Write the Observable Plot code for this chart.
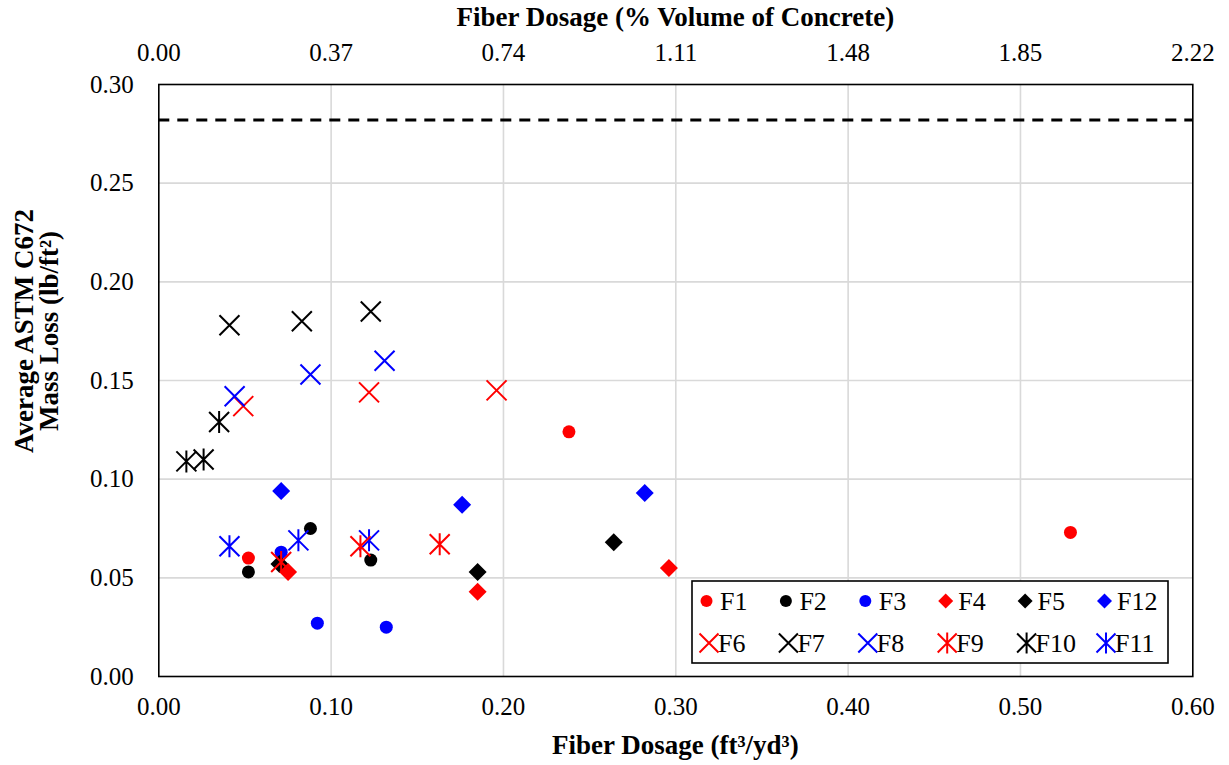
<!DOCTYPE html>
<html><head><meta charset="utf-8">
<script src="https://cdn.jsdelivr.net/npm/d3@7"></script>
<script src="https://cdn.jsdelivr.net/npm/@observablehq/plot@0.6"></script>
<style>body{margin:0;background:#fff} #chart{width:1229px;height:765px}</style>
</head><body><div id="chart"></div>
<script>
// ---- data: [fiber dosage ft3/yd3, average mass loss lb/ft2]
const F1  = [[0.052, 0.060], [0.238, 0.124], [0.529, 0.073]];
const F2  = [[0.052, 0.053], [0.088, 0.075], [0.123, 0.059]];
const F3  = [[0.071, 0.063], [0.092, 0.027], [0.132, 0.025]];
const F4  = [[0.075, 0.053], [0.185, 0.043], [0.296, 0.055]];
const F5  = [[0.070, 0.057], [0.185, 0.053], [0.264, 0.068]];
const F12 = [[0.071, 0.094], [0.176, 0.087], [0.282, 0.093]];
const F6  = [[0.049, 0.137], [0.122, 0.144], [0.196, 0.145]];
const F7  = [[0.041, 0.178], [0.083, 0.180], [0.123, 0.185]];
const F8  = [[0.044, 0.142], [0.088, 0.153], [0.131, 0.160]];
const F9  = [[0.071, 0.058], [0.117, 0.066], [0.163, 0.067]];
const F10 = [[0.016, 0.109], [0.026, 0.110], [0.035, 0.129]];
const F11 = [[0.041, 0.066], [0.081, 0.069], [0.122, 0.069]];
const massLossLimit = [0.282];

const seriesNames  = ["F1","F2","F3","F4","F5","F12","F6","F7","F8","F9","F10","F11"];
const seriesData   = {F1,F2,F3,F4,F5,F12,F6,F7,F8,F9,F10,F11};
const seriesColor  = ["#ff0000","#000000","#0000ff","#ff0000","#000000","#0000ff","#ff0000","#000000","#0000ff","#ff0000","#000000","#0000ff"];
const seriesShape  = ["circle","circle","circle","diamond","diamond","diamond","x","x","x","asterisk","asterisk","asterisk"];
const drawOrder    = ["F1","F2","F3","F5","F4","F12","F6","F7","F8","F10","F11","F9"];

const xTicks = [0, 0.1, 0.2, 0.3, 0.4, 0.5, 0.6];
const xTickLabels = ["0.00","0.10","0.20","0.30","0.40","0.50","0.60"];
const topTickLabels = ["0.00","0.37","0.74","1.11","1.48","1.85","2.22"];
const yTicks = [0, 0.05, 0.10, 0.15, 0.20, 0.25, 0.30];
const yTickLabels = ["0.00","0.05","0.10","0.15","0.20","0.25","0.30"];

// ---- symbols
const symX = {draw(c, s){const h=Math.sqrt(s/Math.PI); c.moveTo(-h,-h); c.lineTo(h,h); c.moveTo(h,-h); c.lineTo(-h,h);}};
const symAst = {draw(c, s){const h=Math.sqrt(s/Math.PI); c.moveTo(-h,-h); c.lineTo(h,h); c.moveTo(h,-h); c.lineTo(-h,h); c.moveTo(0,-h*1.1); c.lineTo(0,h*1.1);}};
const symDiamond = {draw(c, s){const h=Math.sqrt(s/Math.PI); c.moveTo(0,-h); c.lineTo(h,0); c.lineTo(0,h); c.lineTo(-h,0); c.closePath();}};

function seriesMark(name) {
  const i = seriesNames.indexOf(name);
  const color = seriesColor[i], shape = seriesShape[i];
  const data = seriesData[name];
  const base = {x: d => d[0], y: d => d[1]};
  if (shape === "circle") return Plot.dot(data, {...base, r: 6.5, fill: color, stroke: "none"});
  if (shape === "diamond") return Plot.dot(data, {...base, r: 9, symbol: symDiamond, fill: color, stroke: "none"});
  if (shape === "x") return Plot.dot(data, {...base, r: 10, symbol: symX, fill: "none", stroke: color, strokeWidth: 2});
  return Plot.dot(data, {...base, r: 10, symbol: symAst, fill: "none", stroke: color, strokeWidth: 2});
}

const FONT = "'Liberation Serif', 'Times New Roman', serif";
const mL = 158.3, mR = 1229 - 1192.3, mT = 84, mB = 765 - 676;

const chart = Plot.plot({
  width: 1229, height: 765,
  marginLeft: mL, marginRight: mR, marginTop: mT, marginBottom: mB,
  style: {fontFamily: FONT, fontSize: "25px", color: "#000", background: "#fff"},
  x: {domain: [0, 0.6]},
  y: {domain: [0, 0.3]},
  marks: [
    Plot.gridX(xTicks.slice(1, -1), {stroke: "#d9d9d9", strokeOpacity: 1, strokeWidth: 1.6}),
    Plot.gridY(yTicks.slice(1, -1), {stroke: "#d9d9d9", strokeOpacity: 1, strokeWidth: 1.6}),
    Plot.ruleY(massLossLimit, {stroke: "#000", strokeWidth: 3, strokeDasharray: "11,8"}),
    Plot.axisX(xTicks, {anchor: "bottom", tickSize: 0, tickPadding: 21, tickFormat: d => xTickLabels[xTicks.indexOf(d)], label: null, fontSize: 25}),
    Plot.axisX(xTicks, {anchor: "top", tickSize: 0, tickPadding: 24, tickFormat: d => topTickLabels[xTicks.indexOf(d)], label: null, fontSize: 25}),
    Plot.axisY(yTicks, {anchor: "left", tickSize: 0, tickPadding: 25, tickFormat: d => yTickLabels[yTicks.indexOf(d)], label: null, fontSize: 25}),
    ...drawOrder.map(seriesMark),
    Plot.frame({stroke: "#000", strokeWidth: 1.6})
  ]
});
document.getElementById("chart").appendChild(chart);

// ---- titles
const svg = d3.select(chart);
const cx = (mL + 1192.3) / 2;
svg.append("text").attr("x", cx).attr("y", 26).attr("text-anchor", "middle")
  .attr("font-family", FONT).attr("font-size", 27).attr("font-weight", "bold").attr("fill", "#000")
  .text("Fiber Dosage (% Volume of Concrete)");
svg.append("text").attr("x", cx).attr("y", 754).attr("text-anchor", "middle")
  .attr("font-family", FONT).attr("font-size", 27).attr("font-weight", "bold").attr("fill", "#000")
  .text("Fiber Dosage (ft³/yd³)");
const yt = svg.append("text").attr("transform", "translate(0,331) rotate(-90)")
  .attr("text-anchor", "middle").attr("font-family", FONT).attr("font-size", 27)
  .attr("font-weight", "bold").attr("fill", "#000");
yt.append("tspan").attr("x", 0).attr("y", 33).text("Average ASTM C672");
yt.append("tspan").attr("x", 0).attr("y", 58).text("Mass Loss (lb/ft²)");

// ---- legend
const lg = svg.append("g").attr("text-anchor", "start");
lg.append("rect").attr("x", 692).attr("y", 581).attr("width", 476).attr("height", 82)
  .attr("fill", "#fff").attr("stroke", "#000").attr("stroke-width", 1.6);
const legendRows = [["F1","F2","F3","F4","F5","F12"], ["F6","F7","F8","F9","F10","F11"]];
const symPath = (sym, h) => { const p = d3.path(); sym.draw(p, Math.PI*h*h); return p.toString(); };
legendRows.forEach((row, r) => {
  const cy = r === 0 ? 601 : 643;
  row.forEach((name, c) => {
    const i = seriesNames.indexOf(name);
    const color = seriesColor[i], shape = seriesShape[i];
    const tx = 720 + 79.4 * c;
    const g = lg.append("g");
    if (shape === "circle") {
      g.append("circle").attr("cx", tx - 13.5).attr("cy", cy).attr("r", 6).attr("fill", color);
    } else if (shape === "diamond") {
      g.append("path").attr("transform", `translate(${tx-12.5},${cy})`).attr("d", symPath(symDiamond, 7.5)).attr("fill", color);
    } else {
      g.append("path").attr("transform", `translate(${tx-11},${cy})`).attr("d", symPath(shape === "x" ? symX : symAst, 9.5))
        .attr("fill", "none").attr("stroke", color).attr("stroke-width", 2);
    }
    g.append("text").attr("x", r === 0 ? tx : tx - 2).attr("y", cy + 9).attr("text-anchor", "start")
      .attr("font-family", FONT).attr("font-size", 26).attr("fill", "#000").text(name);
  });
});
</script></body></html>
